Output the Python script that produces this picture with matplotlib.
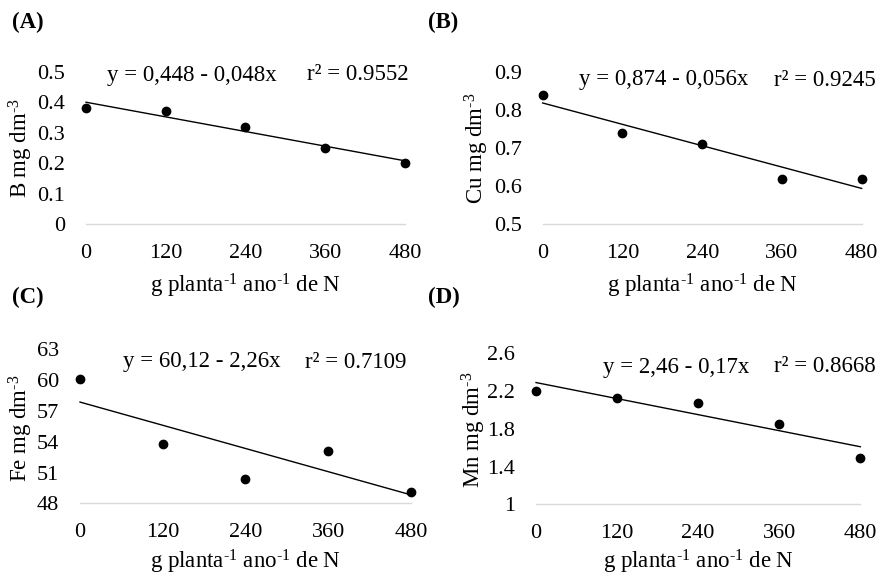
import numpy as np
import matplotlib
matplotlib.use("Agg")
import matplotlib.pyplot as plt

plt.rcParams['font.family'] = ['Liberation Serif', 'DejaVu Serif']
plt.rcParams['mathtext.fontset'] = 'custom'
plt.rcParams['mathtext.rm'] = 'Liberation Serif'
plt.rcParams['mathtext.it'] = 'Liberation Serif:italic'
plt.rcParams['mathtext.bf'] = 'Liberation Serif:bold'

# ---- data ----
doses = [0, 120, 240, 360, 480]
panel_labels = ["(A)", "(B)", "(C)", "(D)"]
nutrients = ["B", "Cu", "Fe", "Mn"]
B_values = [0.38, 0.37, 0.32, 0.25, 0.20]
Cu_values = [0.84, 0.74, 0.71, 0.62, 0.62]
Fe_values = [60.1, 53.8, 50.4, 53.1, 49.1]
Mn_values = [2.20, 2.13, 2.07, 1.85, 1.49]
eq_intercepts = [0.448, 0.874, 60.12, 2.46]
eq_slopes = [0.048, 0.056, 2.26, 0.17]
eq_texts = ["y = 0,448 - 0,048x", "y = 0,874 - 0,056x", "y = 60,12 - 2,26x", "y = 2,46 - 0,17x"]
r2_texts = ["r² = 0.9552", "r² = 0.9245", "r² = 0.7109", "r² = 0.8668"]
y_ticks = [
    [0, 0.1, 0.2, 0.3, 0.4, 0.5],
    [0.5, 0.6, 0.7, 0.8, 0.9],
    [48, 51, 54, 57, 60, 63],
    [1, 1.4, 1.8, 2.2, 2.6],
]
y_ticklabels = [
    ["0", "0.1", "0.2", "0.3", "0.4", "0.5"],
    ["0.5", "0.6", "0.7", "0.8", "0.9"],
    ["48", "51", "54", "57", "60", "63"],
    ["1", "1.4", "1.8", "2.2", "2.6"],
]
x_label = "g planta$^{\u20101}$ ano$^{\u20101}$ de N"
y_unit = " mg dm$^{\u20103}$"
series = [B_values, Cu_values, Fe_values, Mn_values]

W, H = 882, 576
fig = plt.figure(figsize=(W / 100, H / 100), dpi=100)

def px(x, y):
    return x / W, 1 - y / H

# axes boxes in pixels: left, top, right, bottom
boxes = [
    (86, 71.7, 405, 224.3),
    (542.7, 71.7, 861.7, 224.3),
    (80, 349.3, 411, 503.3),
    (536, 353.3, 860.3, 504.3),
]
panel_pos = [(12, 22), (428, 22), (12, 297), (428, 297)]
eq_pos = [(107, 75), (579, 80), (123, 362), (603, 367)]
r2_pos = [(307, 75), (774, 80), (305, 362), (774, 367)]
ylab_pos = [(21, 148), (477, 148), (21, 428), (474, 430)]
xlab_base = [292, 292, 568, 568]

FS_T = 16
FS = 16.5
for i in range(4):
    l, t, r, b = boxes[i]
    ax = fig.add_axes([l / W, 1 - b / H, (r - l) / W, (b - t) / H])
    vals = series[i]
    xs = np.array(doses)
    idx = np.arange(1, len(doses) + 1)
    trend = eq_intercepts[i] - eq_slopes[i] * idx
    ax.plot(xs, trend, color='black', lw=1.0, zorder=2, clip_on=False)
    ax.plot(xs, vals, 'o', color='black', ms=6, zorder=3, clip_on=False)
    ax.set_xlim(0, 480)
    ax.set_ylim(y_ticks[i][0], y_ticks[i][-1])
    ax.set_xticks(doses)
    ax.set_xticklabels([str(d) for d in doses], fontsize=FS_T)
    ax.set_yticks(y_ticks[i])
    ax.set_yticklabels(y_ticklabels[i], fontsize=FS_T)
    ax.tick_params(axis='both', length=0)
    ax.tick_params(axis='y', pad=15)
    ax.tick_params(axis='x', pad=14)
    for s in ['top', 'right', 'left']:
        ax.spines[s].set_visible(False)
    ax.spines['bottom'].set_color('#d9d9d9')
    ax.spines['bottom'].set_linewidth(1.0)
    ax.patch.set_alpha(0)

    fig.text(*px(*panel_pos[i]), panel_labels[i], fontsize=FS, fontweight='bold',
             ha='left', va='center')
    fig.text(*px(*eq_pos[i]), eq_texts[i], fontsize=FS, ha='left', va='center')
    fig.text(*px(*r2_pos[i]), r2_texts[i], fontsize=FS, ha='left', va='center')
    fig.text(*px(*ylab_pos[i]), nutrients[i] + y_unit, fontsize=FS,
             rotation=90, ha='center', va='center')
    fig.text(*px((l + r) / 2, xlab_base[i]), x_label, fontsize=FS, ha='center',
             va='baseline')

fig.savefig("out.png", dpi=100)
